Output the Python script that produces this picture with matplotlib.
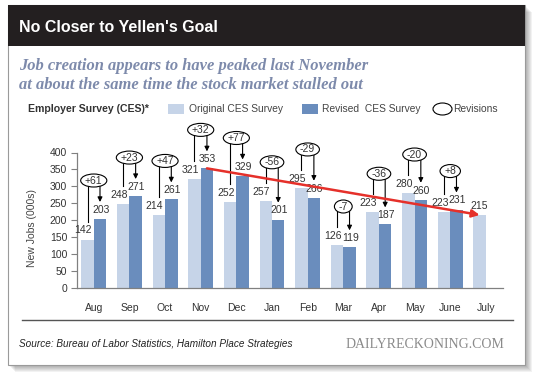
import matplotlib
matplotlib.use("Agg")
import matplotlib.pyplot as plt
import numpy as np
from matplotlib.patches import Rectangle, Ellipse
from matplotlib.textpath import TextPath
from matplotlib.font_manager import FontProperties

plt.rcParams['font.family'] = ['Liberation Sans', 'DejaVu Sans']

# данные
months = ['Aug', 'Sep', 'Oct', 'Nov', 'Dec', 'Jan', 'Feb', 'Mar', 'Apr', 'May', 'June', 'July']
original = [142, 248, 214, 321, 252, 257, 295, 126, 223, 280, 223, 215]
revised = [203, 271, 261, 353, 329, 201, 266, 119, 187, 260, 231]

c_orig = '#c6d4e8'
c_rev = '#6a8dbd'
c_text = '#333333'

W, H = 540, 375


def fx(px):
    return px / W


def fy(py):
    return 1 - py / H


fig = plt.figure(figsize=(W / 100, H / 100), dpi=100)

# тень и рамка
bx0, by0, bx1, by1 = 8, 5, 525, 365
for i in range(7, 0, -1):
    fig.add_artist(Rectangle((fx(bx0 + i), fy(by1 + i)), (bx1 - bx0) / W, (by1 - by0) / H,
                             transform=fig.transFigure, fc='black', ec='none', alpha=0.05, zorder=0))
fig.add_artist(Rectangle((fx(bx0), fy(by1)), (bx1 - bx0) / W, (by1 - by0) / H,
                         transform=fig.transFigure, fc='white', ec='#9a9a9a', lw=0.8, zorder=1))
# тёмная полоса заголовка
fig.add_artist(Rectangle((fx(bx0), fy(46)), (bx1 - bx0) / W, (46 - by0) / H,
                         transform=fig.transFigure, fc='#231f20', ec='none', zorder=2))
fig.text(fx(19), fy(27), "No Closer to Yellen's Goal", color='white', weight='bold',
         size=11.5, va='center', ha='left', zorder=3)

sub_kw = dict(family=['Liberation Serif', 'DejaVu Serif'], style='italic', weight='bold',
              size=11.9, color='#7d8aab', va='center', ha='left', zorder=3)
fig.text(fx(19), fy(66), "Job creation appears to have peaked last November", **sub_kw)
fig.text(fx(19), fy(85), "at about the same time the stock market stalled out", **sub_kw)

# легенда
leg_y = 109
fig.text(fx(28), fy(leg_y), "Employer Survey (CES)*", weight='bold', size=7.6, color=c_text,
         va='center', zorder=3)
fig.add_artist(Rectangle((fx(168), fy(114)), 16 / W, 10 / H, transform=fig.transFigure,
                         fc=c_orig, ec='none', zorder=3))
fig.text(fx(189), fy(leg_y), "Original CES Survey", size=7.4, color='#444444', va='center', zorder=3)
fig.add_artist(Rectangle((fx(302), fy(114)), 16 / W, 10 / H, transform=fig.transFigure,
                         fc=c_rev, ec='none', zorder=3))
fig.text(fx(322), fy(leg_y), "Revised  CES Survey", size=7.4, color='#444444', va='center', zorder=3)
fig.add_artist(Ellipse((fx(442.5), fy(leg_y)), 19 / W, 12 / H, transform=fig.transFigure,
                       fc='white', ec='black', lw=0.8, zorder=3))
fig.text(fx(453), fy(leg_y), "Revisions", size=7.4, color='#444444', va='center', zorder=3)

# нижняя часть
fig.add_artist(plt.Line2D([fx(22), fx(513)], [fy(320), fy(320)], transform=fig.transFigure,
                          color='#555555', lw=1, zorder=3))
fig.text(fx(19), fy(344), "Source: Bureau of Labor Statistics, Hamilton Place Strategies",
         style='italic', size=7.2, color='#222222', va='center', zorder=3)
fig.text(fx(504), fy(344), "DAILYRECKONING.COM", family=['Liberation Serif', 'DejaVu Serif'],
         size=10, color='#8a8a8a', va='center', ha='right', zorder=3)

# сам график
ax0, ax1, ay0, ay1 = 77, 503, 287.5, 152.5
ax = fig.add_axes([fx(ax0), fy(ay0), (ax1 - ax0) / W, (ay0 - ay1) / H], zorder=4)
ax.patch.set_alpha(0)

x = np.arange(len(months))
w = 0.35
ax.bar(x - w / 2, original, w, color=c_orig, zorder=2)
ax.bar(x[:len(revised)] + w / 2, revised, w, color=c_rev, zorder=2)

ax.set_xlim(-0.47, 11.48)
ax.set_ylim(0, 400)
ax.set_yticks(range(0, 401, 50))
ax.set_xticks(x)
ax.set_xticklabels(months)
ax.tick_params(axis='x', length=0, pad=11, labelsize=7.5, labelcolor=c_text)
ax.tick_params(axis='y', length=4, width=0.8, color='#808080', pad=3, labelsize=7.5, labelcolor=c_text)
for s in ['top', 'right']:
    ax.spines[s].set_visible(False)
for s in ['left', 'bottom']:
    ax.spines[s].set_color('#808080')
    ax.spines[s].set_linewidth(0.9)
ax.set_ylabel("New Jobs (000s)", size=7.5, color='#444444')
ax.yaxis.set_label_coords(-0.094, 0.44)

# перевод пикселей в единицы осей
px_x = (11.48 + 0.47) / (ax1 - ax0)
px_y = 400 / (ay0 - ay1)

# подписи значений
for i, v in enumerate(original):
    dx = -3 if i < len(revised) else 0
    ax.annotate(str(v), (x[i] - w / 2, v), xytext=(dx, 3), textcoords='offset points',
                ha='center', va='bottom', size=7.5, color=c_text, zorder=3)
for i, v in enumerate(revised):
    ax.annotate(str(v), (x[i] + w / 2, v), xytext=(0.5, 3), textcoords='offset points',
                ha='center', va='bottom', size=7.5, color=c_text, zorder=3)

# ревизии: скобка, стрелка и овал
fp = FontProperties(family='Liberation Sans', size=7.5)
for i, (o, r) in enumerate(zip(original, revised)):
    xo, xr = x[i] - w / 2, x[i] + w / 2
    ey = max(o, r) + 114
    ax.plot([xo, xo, xr], [o + 18 * px_y, ey, ey], color='black', lw=0.8, clip_on=False, zorder=5)
    ax.annotate('', xy=(xr, r + 17 * px_y), xytext=(xr, ey),
                arrowprops=dict(arrowstyle='-|>', color='black', lw=0.8, mutation_scale=7,
                                shrinkA=0, shrinkB=0),
                annotation_clip=False, zorder=5)
    label = f"{r - o:+d}"
    tw = TextPath((0, 0), label, prop=fp).get_extents().width * 100 / 72
    ax.add_patch(Ellipse((x[i], ey), (tw + 9.5) * px_x, 13 * px_y, fc='white', ec='black',
                         lw=0.8, clip_on=False, zorder=6))
    ax.text(x[i], ey, label, ha='center', va='center', size=7.5, color=c_text, zorder=7)

# красная стрелка тренда
ax.annotate('', xy=(x[11] - w / 2, original[11]), xytext=(x[3] + w / 2, revised[3]),
            arrowprops=dict(arrowstyle='-|>', color='#e5302a', lw=1.8, mutation_scale=11,
                            shrinkA=0, shrinkB=0),
            annotation_clip=False, zorder=8)

fig.savefig('out.png', dpi=100)
plt.close(fig)
